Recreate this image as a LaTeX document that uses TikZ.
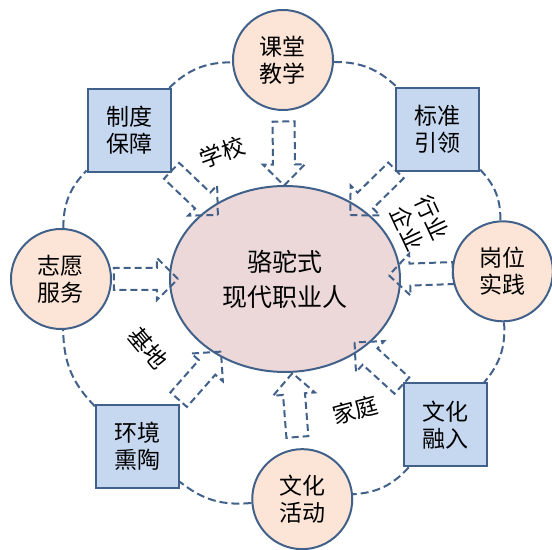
\documentclass[tikz,border=0pt]{standalone}
\usepackage{fontspec}
\setmainfont{Noto Sans CJK SC}
\usepackage{tikz}
\usetikzlibrary{shapes.geometric, shapes.arrows}
\definecolor{edgeblue}{RGB}{65,97,138}
\definecolor{peach}{RGB}{252,229,214}
\definecolor{boxblue}{RGB}{198,216,240}
\definecolor{rosy}{RGB}{236,216,217}
\tikzset{x=0.5pt, y=0.5pt,
         every node/.style={font=\fontsize{11.5}{13.5}\selectfont},
         core/.style={ellipse, draw=edgeblue, line width=1pt, fill=rosy, minimum width=115pt, minimum height=93pt, align=center, font=\fontsize{12.5}{17.5}\selectfont},
         ring/.style={circle, draw=edgeblue, line width=1pt, fill=peach, minimum size=50pt, inner sep=0pt, align=center},
         sq/.style={rectangle, draw=edgeblue, line width=1pt, fill=boxblue, minimum size=41.5pt, inner sep=0pt, align=center},
         link/.style={draw=edgeblue, line width=1pt, dash pattern=on 4pt off 2pt},
         push/.style={single arrow, draw=edgeblue, line width=1pt, dash pattern=on 3.5pt off 2pt,
                      inner xsep=0pt, inner ysep=5pt, minimum height=32pt,
                      single arrow head extend=5pt, single arrow tip angle=90,
                      sloped, allow upside down},
         }

\begin{document}
\begin{tikzpicture}
    \useasboundingbox (-283,-271) rectangle (269,279);

    \node[core] (ren) at (2,0) {骆驼式\\现代职业人};
    \node[ring] (kt) at (90:219) {课堂\\教学};
    \node[sq] (bz) at (44:215) {标准\\引领};
    \node[ring] (gw) at (2:220) {岗位\\实践};
    \node[sq] (rr) at (-42:218) {文化\\融入};
    \node[ring] (hd) at (-85:221) {文化\\活动};
    \node[sq] (hj) at (-131:222) {环境\\熏陶};
    \node[ring] (zy) at (180:222) {志愿\\服务};
    \node[sq] (zd) at (136:214) {制度\\保障};

    \draw[link] (kt) to[bend left=22] (bz);
    \draw[link] (bz) to[bend left=22] (gw);
    \draw[link] (gw) to[bend left=22] (rr);
    \draw[link] (rr) to[bend left=22] (hd);
    \draw[link] (hd) to[bend left=22] (hj);
    \draw[link] (hj) to[bend left=22] (zy);
    \draw[link] (zy) to[bend left=22] (zd);
    \draw[link] (zd) to[bend left=22] (kt);

    \path (kt) -- node[push] {} (ren);
    \path (bz) -- node[push] {} (ren);
    \path (gw) -- node[push] {} (ren);
    \path (rr) -- node[push] {} (ren);
    \path (hd) -- node[push] {} (ren);
    \path (hj) -- node[push] {} (ren);
    \path (zy) -- node[push] {} (ren);
    \path (zd) -- node[push] {} (ren);

    \node[rotate=20] (xx) at (-61,127) {学校};
    \node[rotate=-65, align=center] (hy) at (137,56) {行业\\企业};
    \node[rotate=-50] (jd) at (-135,-69) {基地};
    \node[rotate=15] (jt) at (72,-131) {家庭};
\end{tikzpicture}
\end{document}
